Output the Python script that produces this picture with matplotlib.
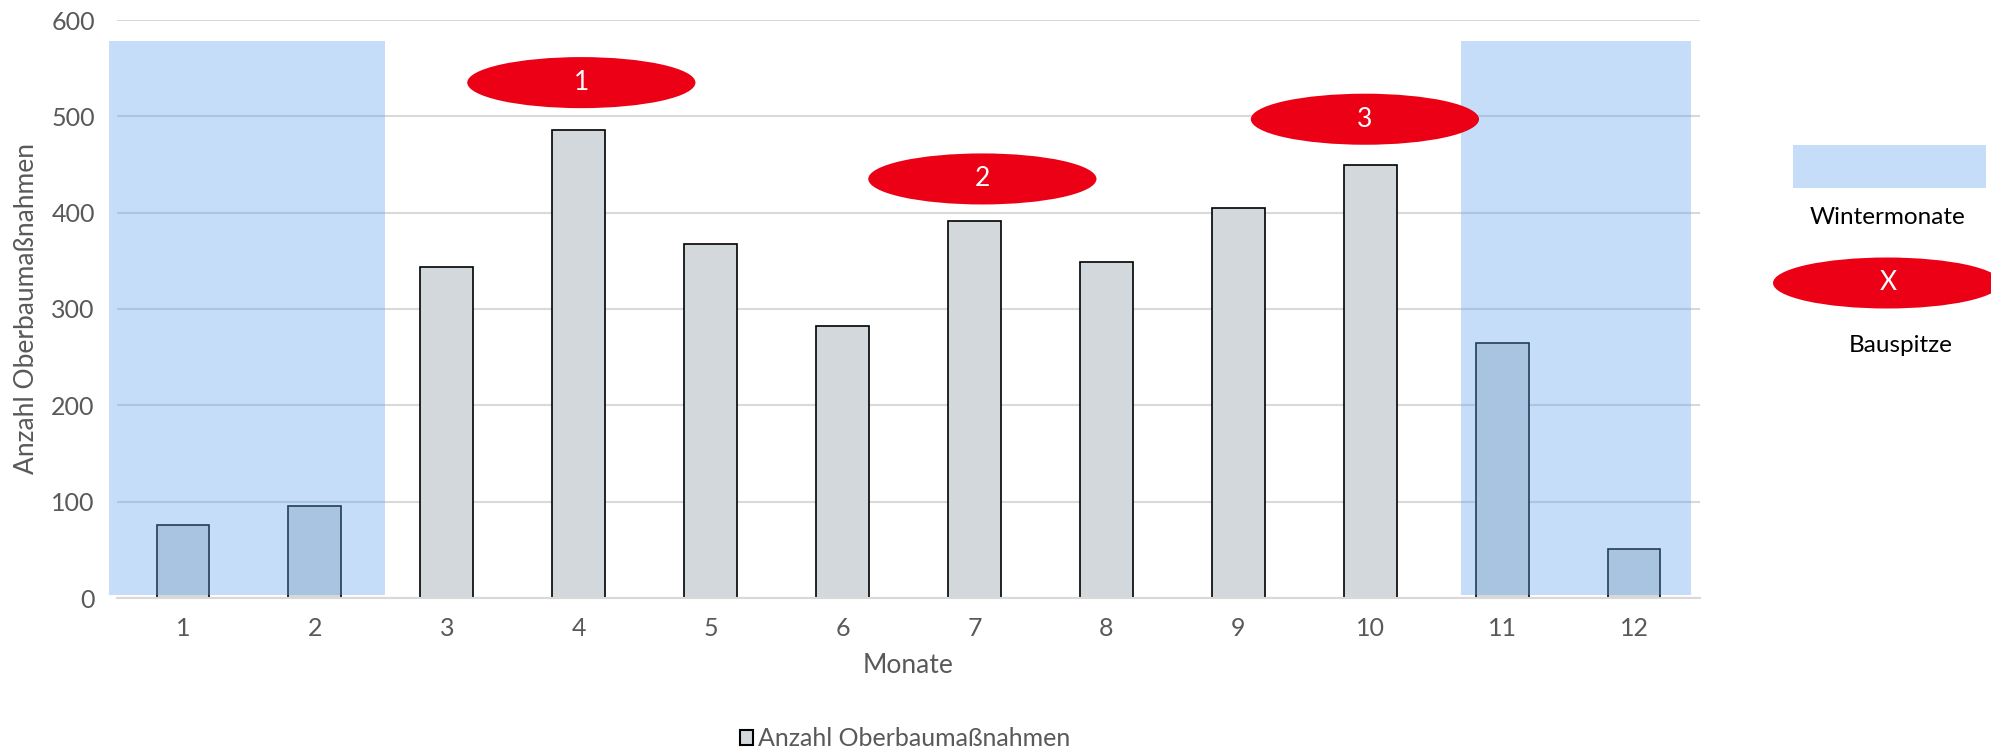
import matplotlib.pyplot as plt
from matplotlib.patches import Ellipse, Rectangle, Patch

plt.rcParams['font.family'] = ['Lato', 'DejaVu Sans']

months = [1, 2, 3, 4, 5, 6, 7, 8, 9, 10, 11, 12]
counts = [76, 96, 344, 486, 367, 282, 391, 349, 405, 450, 265, 51]

# shaded winter months (x from, x to) and vertical extent
winter_spans = [(0.44, 2.53), (10.69, 12.43)]
winter_y = (3, 578)

# "Bauspitze" markers: label, x position, y position
peak_labels = ['1', '2', '3']
peak_x = [4.02, 7.06, 9.96]
peak_y = [535, 435, 497]

gray_txt = '#595959'
grid_col = '#D9D9D9'
bar_col = '#D3D8DC'
winter_col = (98 / 255, 163 / 255, 236 / 255, 0.37)
winter_legend_col = '#C5DDF8'
red = '#EC0016'

fig = plt.figure(figsize=(19.91, 7.5), dpi=100)
ax = fig.add_axes([117 / 1991, 1 - 598 / 750, (1700 - 117) / 1991, (598 - 20) / 750])

ax.bar(months, counts, width=0.4, color=bar_col, edgecolor='black', linewidth=1.2, zorder=2)

for x0, x1 in winter_spans:
    ax.add_patch(Rectangle((x0, winter_y[0]), x1 - x0, winter_y[1] - winter_y[0],
                           facecolor=winter_col, edgecolor='none', zorder=3, clip_on=False))

for lab, x, y in zip(peak_labels, peak_x, peak_y):
    ax.add_patch(Ellipse((x, y), 1.73, 53, facecolor=red, edgecolor='none', zorder=4))
    ax.text(x, y, lab, color='white', fontsize=19, ha='center', va='center', zorder=5)

ax.set_xlim(0.5, 12.5)
ax.set_ylim(0, 600)
ax.set_yticks(range(0, 601, 100))
ax.set_xticks(months)
ax.grid(axis='y', color=grid_col, linewidth=1.5, zorder=0)
ax.set_axisbelow(True)
for s in ['top', 'right', 'left']:
    ax.spines[s].set_visible(False)
ax.spines['bottom'].set_color(grid_col)
ax.spines['bottom'].set_linewidth(1.5)
ax.tick_params(length=0, labelsize=18, labelcolor=gray_txt)
ax.tick_params(axis='x', pad=14)
ax.tick_params(axis='y', pad=16)

ax.set_xlabel('Monate', fontsize=19, color=gray_txt)
ax.xaxis.set_label_coords(0.5, -0.095)
ax.set_ylabel('Anzahl Oberbaumaßnahmen', fontsize=19, color=gray_txt)
ax.yaxis.set_label_coords(-0.049, 0.5)

fig.legend(handles=[Patch(facecolor=bar_col, edgecolor='black', linewidth=1.5)],
           labels=['Anzahl Oberbaumaßnahmen'], loc='center',
           bbox_to_anchor=(905 / 1991, 1 - 739 / 750), frameon=False,
           handlelength=0.55, handleheight=0.55, handletextpad=0.2,
           fontsize=18, labelcolor=gray_txt)

# right-hand key, in figure pixels
key = fig.add_axes([0, 0, 1, 1])
key.set_xlim(0, 1991)
key.set_ylim(750, 0)
key.axis('off')
key.patch.set_visible(False)
key.add_patch(Rectangle((1793, 145), 193, 43, facecolor=winter_legend_col, edgecolor='none'))
key.text(1888, 218, 'Wintermonate', fontsize=17.5, ha='center', va='center', color='black')
key.add_patch(Ellipse((1887, 283), 228, 51, facecolor=red, edgecolor='none'))
key.text(1888, 283, 'X', fontsize=19, ha='center', va='center', color='white')
key.text(1901, 346, 'Bauspitze', fontsize=17.5, ha='center', va='center', color='black')

fig.savefig('out.png', dpi=100)
